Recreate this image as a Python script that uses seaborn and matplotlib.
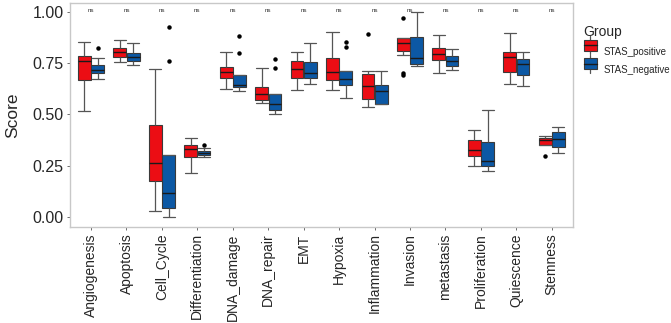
import numpy as np
import pandas as pd
import seaborn as sns
import matplotlib.pyplot as plt
from matplotlib.legend_handler import HandlerBase
from matplotlib.patches import Rectangle
from matplotlib.lines import Line2D

# Categories and groups
categories = ["Angiogenesis", "Apoptosis", "Cell_Cycle", "Differentiation", "DNA_damage",
              "DNA_repair", "EMT", "Hypoxia", "Inflammation", "Invasion", "metastasis",
              "Proliferation", "Quiescence", "Stemness"]
groups = ["STAS_positive", "STAS_negative"]

# Box summaries: lower whisker, Q1, median, Q3, upper whisker
pos_lo  = [0.515, 0.756, 0.028, 0.212, 0.622, 0.555, 0.619, 0.619, 0.537, 0.788, 0.700, 0.246, 0.650, 0.352]
pos_q1  = [0.666, 0.779, 0.176, 0.290, 0.678, 0.570, 0.678, 0.668, 0.575, 0.808, 0.766, 0.297, 0.708, 0.352]
pos_med = [0.762, 0.803, 0.264, 0.331, 0.708, 0.599, 0.722, 0.707, 0.640, 0.849, 0.793, 0.326, 0.779, 0.375]
pos_q3  = [0.785, 0.826, 0.449, 0.352, 0.733, 0.632, 0.761, 0.777, 0.696, 0.872, 0.823, 0.373, 0.806, 0.384]
pos_hi  = [0.855, 0.862, 0.723, 0.384, 0.806, 0.725, 0.803, 0.904, 0.712, 0.872, 0.889, 0.425, 0.896, 0.396]
pos_out = [[], [], [], [], [], [], [], [], [0.894], [0.972, 0.700, 0.691], [], [], [], [0.297]]

neg_lo  = [0.673, 0.741, 0.000, 0.290, 0.616, 0.502, 0.647, 0.581, 0.549, 0.736, 0.715, 0.225, 0.639, 0.310]
neg_q1  = [0.702, 0.761, 0.044, 0.301, 0.632, 0.523, 0.679, 0.645, 0.551, 0.747, 0.738, 0.248, 0.694, 0.339]
neg_med = [0.717, 0.779, 0.114, 0.310, 0.645, 0.552, 0.703, 0.673, 0.616, 0.774, 0.761, 0.274, 0.744, 0.378]
neg_q3  = [0.741, 0.798, 0.300, 0.319, 0.692, 0.601, 0.757, 0.713, 0.645, 0.876, 0.787, 0.366, 0.770, 0.412]
neg_hi  = [0.774, 0.850, 0.300, 0.334, 0.692, 0.601, 0.847, 0.713, 0.712, 0.998, 0.818, 0.521, 0.803, 0.440]
neg_out = [[0.824], [], [0.761, 0.928], [0.352], [0.800, 0.881], [0.728, 0.770], [], [0.829, 0.855], [], [], [], [], [], []]

colors = {"STAS_positive": "#EC0D14", "STAS_negative": "#0C58A4"}

# Expand each summary into sample points that reproduce it
rows = []
summaries = {
    "STAS_positive": (pos_lo, pos_q1, pos_med, pos_q3, pos_hi, pos_out),
    "STAS_negative": (neg_lo, neg_q1, neg_med, neg_q3, neg_hi, neg_out),
}
for g, (lo, q1, med, q3, hi, out) in summaries.items():
    for i, cat in enumerate(categories):
        vals = [lo[i], q1[i], med[i], q3[i], hi[i]] * 20 + out[i]
        rows += [(cat, g, v) for v in vals]
df = pd.DataFrame(rows, columns=["Pathway", "Group", "Score"])

sns.set_style("white")
plt.rcParams["font.family"] = ["Liberation Sans", "DejaVu Sans"]

fig, ax = plt.subplots(figsize=(6.71, 3.23), dpi=100)
fig.subplots_adjust(left=0.104, right=0.854, top=0.991, bottom=0.297)

sns.boxplot(
    data=df, x="Pathway", y="Score", hue="Group", order=categories, hue_order=groups,
    palette=colors, saturation=1, width=0.75, gap=0.04, whis=1.5, ax=ax, legend=False,
    linecolor="#3a3a3a", linewidth=0.8, capwidths=0.34,
    whiskerprops=dict(color="#555555", linewidth=0.9),
    capprops=dict(color="#555555", linewidth=0.9),
    medianprops=dict(color="#1a1a1a", linewidth=1.0),
    flierprops=dict(marker="o", markersize=2.2, markerfacecolor="black",
                    markeredgecolor="black"),
)

# significance labels
for i, cat in enumerate(categories):
    ax.text(i, 1.005, "ns", ha="center", va="center", fontsize=4.5, color="#333333")

ax.set_xlim(-0.6, len(categories) - 0.4)
ax.set_ylim(-0.05, 1.044)
ax.set_yticks([0, 0.25, 0.5, 0.75, 1.0])
ax.set_yticklabels(["0.00", "0.25", "0.50", "0.75", "1.00"])
ax.set_xlabel("")
ax.set_ylabel("Score", fontsize=12.5, labelpad=9)
ax.tick_params(axis="x", labelrotation=90, labelsize=10, length=2.5, width=0.6,
               color="#555555", pad=2, bottom=True)
ax.tick_params(axis="y", labelsize=11.5, length=2.5, width=0.6, color="#555555",
               pad=2, left=True)
for s in ax.spines.values():
    s.set_color("#C8C8C8")
    s.set_linewidth(1.0)


class BoxKey(HandlerBase):
    def create_artists(self, legend, orig, xd, yd, w, h, fontsize, trans):
        cx = xd + w / 2
        line = Line2D([cx, cx], [yd - 2, yd + h + 2], color="#555555", lw=0.9, transform=trans)
        box = Rectangle((xd, yd + 0.5), w, h - 1, facecolor=orig.get_facecolor(),
                        edgecolor="#3a3a3a", lw=0.8, transform=trans)
        med = Line2D([xd, xd + w], [yd + h / 2, yd + h / 2], color="#1a1a1a", lw=1.0,
                     transform=trans)
        return [line, box, med]


handles = [Rectangle((0, 0), 1, 1, facecolor=colors[g]) for g in groups]
leg = ax.legend(handles, groups, title="Group", loc="upper left", bbox_to_anchor=(1.021, 0.9),
                frameon=False, fontsize=7, title_fontsize=10, handlelength=1.35,
                handleheight=1.6, handletextpad=0.75, labelspacing=0.6, borderaxespad=0,
                borderpad=0, handler_map={Rectangle: BoxKey()})
leg._legend_box.align = "left"
leg._legend_box._children[1].sep = 6

fig.savefig("out.png", dpi=100)
